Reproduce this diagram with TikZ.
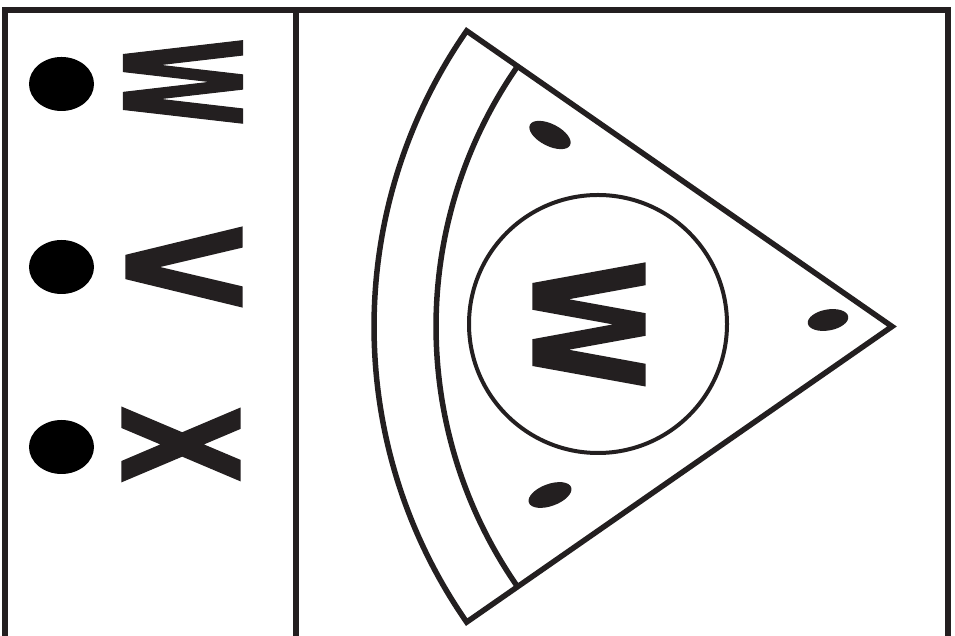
\documentclass[tikz,border=0pt]{standalone}
\usepackage{fontspec}
\newfontfamily\signfont{DejaVu Sans Bold}[FakeBold=1.5]
\usetikzlibrary{calc,shapes.geometric}
\definecolor{ink}{HTML}{231F20}

\begin{document}
\begin{tikzpicture}[
    x=1pt,y=1pt,
    line join=miter,
    frm/.style={draw=ink,line width=6pt},
    crust/.style={draw=ink,line width=5.5pt},
    sauce/.style={circle,draw=ink,line width=4pt,inner sep=0pt,minimum size=258pt},
    olive/.style={ellipse,fill=ink,inner sep=0pt,minimum width=45pt,minimum height=22pt},
    dot/.style={ellipse,fill=black,inner sep=0pt,minimum width=65pt,minimum height=54pt},
    glyph/.style={inner sep=0pt,rotate=-90,text=ink,font=\signfont}
  ]
  \useasboundingbox (0,0) rectangle (955,636);
  %% frame with the legend column
  \draw[frm] (4.5,0) -- (4.5,626) -- (948,626) -- (948,0);
  \draw[frm] (296,0) -- (296,626);
  %% legend: bullets and letters
  \node[dot] (d1) at (61.5,552) {};
  \node[dot] (d2) at (61.5,369) {};
  \node[dot] (d3) at (61.5,189) {};
  \node[glyph] (lw) at (183,554)   {\resizebox{87pt}{118pt}{W}};
  \node[glyph] (lv) at (184,369)   {\resizebox{80pt}{115pt}{V}};
  \node[glyph] (lx) at (181,191.5) {\resizebox{77pt}{117pt}{X}};
  %% the slice
  \coordinate (tip) at (892,309.5);
  \draw[crust] (tip) -- ($(tip)+(145.2:518)$)
        arc[start angle=145.2,end angle=214.8,radius=518] -- cycle;
  \draw[crust] ($(tip)+(145.2:456)$)
        arc[start angle=145.2,end angle=214.8,radius=456];
  \node[sauce] (pie) at (598,312) {};
  \node[glyph] (pw) at (589,311.5) {\resizebox{129pt}{111pt}{W}};
  %% olives
  \node[olive,rotate=-27] (o1) at (550,501) {};
  \node[olive,rotate=10,minimum width=41pt,minimum height=21pt] (o2) at (828,316) {};
  \node[olive,rotate=20] (o3) at (550,141) {};
\end{tikzpicture}
\end{document}
